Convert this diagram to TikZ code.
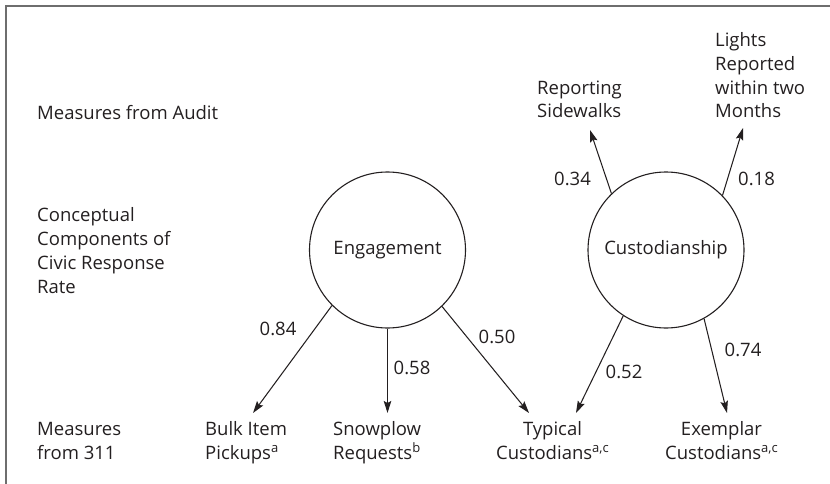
\documentclass[tikz,border=0pt]{standalone}
\usepackage{fontspec}
\setmainfont{Open Sans}
\usetikzlibrary{arrows.meta}
\definecolor{ink}{HTML}{231F20}
\definecolor{framegray}{HTML}{6E6E6E}
% footnote marks on the indicator labels
\newcommand{\notemark}[1]{\raisebox{6.5pt}{\fontsize{13}{13}\selectfont #1}}
\begin{document}
\begin{tikzpicture}[x=1pt, y=-1pt,
  lbl/.style={inner sep=0pt, text=ink, font=\fontsize{18.5}{24}\selectfont},
  num/.style={inner sep=0pt, text=ink, font=\fontsize{18.5}{24}\selectfont},
  latent/.style={circle, draw=ink, line width=1.1pt, minimum size=156pt, inner sep=0pt,
    text=ink, font=\fontsize{18.5}{24}\selectfont},
  link/.style={draw=ink, line width=1.05pt, -{Stealth[length=12pt, width=7.5pt, inset=2pt]}}]
\useasboundingbox (0,0) rectangle (830,484);

% open frame: top and left edges only
\draw[framegray, line width=1.4pt] (6,484) -- (6,6) -- (830,6);

% row captions (multi-line nodes are placed by the baseline of their last line)
\node[lbl, anchor=base west] (audit) at (37,120) {Measures from Audit};
\node[lbl, anchor=base west, align=left, font=\fontsize{18.5}{23.7}\selectfont] (concept) at (37,293)
  {Conceptual\\Components of\\Civic Response\\Rate};
\node[lbl, anchor=base west, align=left] (m311) at (37,459) {Measures\\from 311};

% latent constructs
\node[latent] (eng) at (387.5,250) {Engagement};
\node[latent] (cust) at (666,250) {Custodianship};

% audit indicators
\node[lbl, anchor=base west, align=left, font=\fontsize{18.5}{23}\selectfont] (sidewalks) at (537,118) {Reporting\\Sidewalks};
\node[lbl, anchor=base west, align=left, font=\fontsize{18.5}{23.7}\selectfont] (lights) at (715,118)
  {Lights\\Reported\\within two\\Months};

% 311 indicators
\node[lbl, anchor=base west, align=left] (bulk) at (205,459) {Bulk Item\\Pickups\notemark{a}};
\node[lbl, anchor=base west, align=left] (snow) at (333,459) {Snowplow\\Requests\notemark{b}};
\node[lbl, anchor=base, align=center] (typical) at (552.5,459) {Typical\\Custodians\notemark{a,c}};
\node[lbl, anchor=base, align=center] (exemplar) at (721.5,459) {Exemplar\\Custodians\notemark{a,c}};

% arrow end points just above the indicator labels
\coordinate (bulk-in) at (253,413);
\coordinate (snow-in) at (387.5,413);
\coordinate (typical-inL) at (529,413);
\coordinate (typical-inR) at (576,413);
\coordinate (exemplar-in) at (727,413);
\coordinate (sidewalks-in) at (590,130);
\coordinate (lights-in) at (743,128);

% loadings
\draw[link] (eng.225.8) -- (bulk-in);
\draw[link] (eng.270) -- (snow-in);
\draw[link] (eng.314.7) -- (typical-inL);
\draw[link] (cust.237.3) -- (typical-inR);
\draw[link] (cust.299.8) -- (exemplar-in);
\draw[link] (cust.134.5) -- (sidewalks-in);
\draw[link] (cust.44.5) -- (lights-in);

\node[num] (l084) at (278,328.5) {0.84};
\node[num] (l058) at (412,367.5) {0.58};
\node[num] (l050) at (497,336.5) {0.50};
\node[num] (l052) at (624,371.5) {0.52};
\node[num] (l074) at (743,349.5) {0.74};
\node[num] (l034) at (572.5,179) {0.34};
\node[num] (l018) at (756.5,179) {0.18};
\end{tikzpicture}
\end{document}
